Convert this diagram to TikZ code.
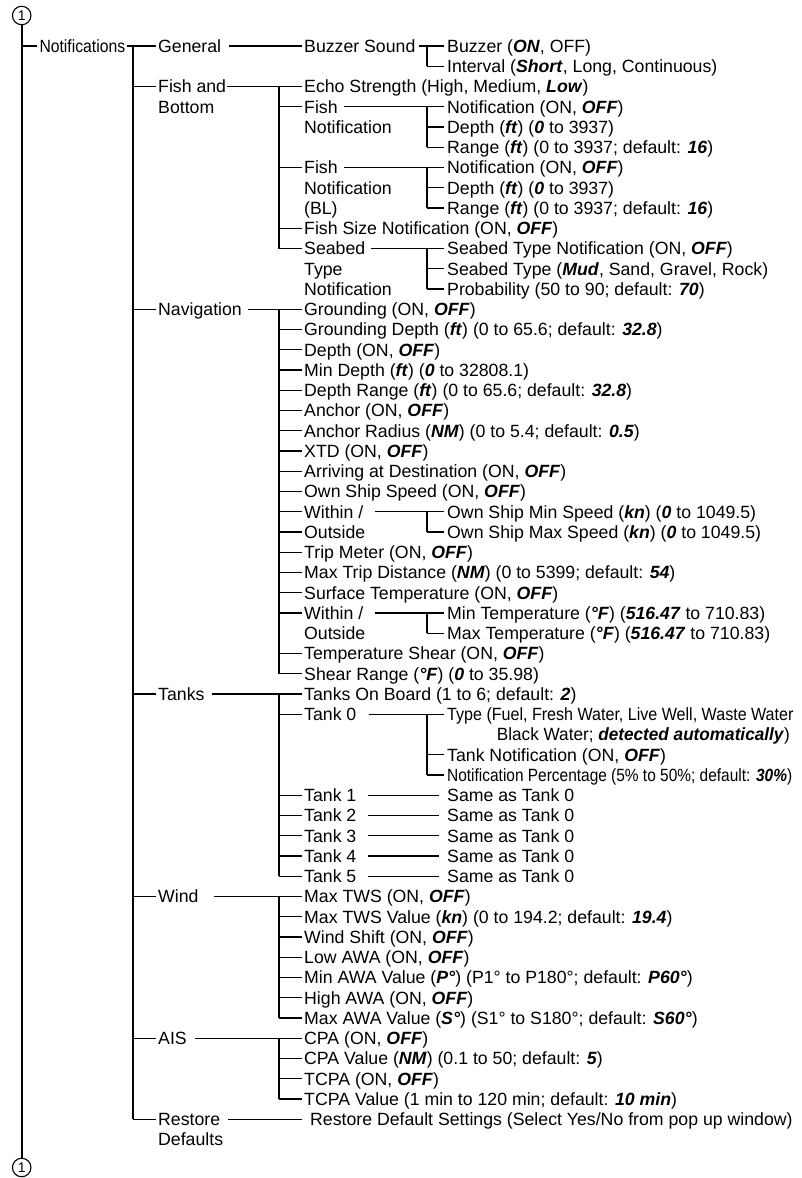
\documentclass[tikz,border=0pt]{standalone}
\usepackage{fontspec}
\setmainfont{Liberation Sans}
\usepackage{graphicx}
\newcommand\bi[1]{\textbf{\textit{#1}}}
\newcommand\hsq[2]{\scalebox{#1}[1]{#2}}
\newcommand\ry[1]{46+#1*20.25}
\begin{document}
\begin{tikzpicture}[x=1pt,y=-1pt,
  lbl/.style={anchor=west,inner sep=0pt,text height=12.7pt,text depth=0pt,font=\fontsize{17.7}{20.25}\selectfont},
  hl/.style={line width=1.3pt},
  vl/.style={line width=1.9pt},
  circ/.style={circle,draw,line width=1.1pt,minimum size=18.5pt,inner sep=0pt,font=\fontsize{14}{14}\selectfont}]
\useasboundingbox (0,0) rectangle (801,1178);
\def\xa{39.3}\def\xb{158}\def\xc{304}\def\xd{447}
\coordinate (v1) at (21.7,0);
\coordinate (v2) at (133.3,0);
\coordinate (v3) at (279.3,0);
\coordinate (v4) at (426.7,0);
% circles
\node[circ] (top) at (21.7,15.5) {1};
\node[circ] (bot) at (21.7,1167.5) {1};
% level 1
\node[lbl] (notif) at (\xa,\ry{0}) {\hsq{0.889}{Notifications}};
% level 2
\node[lbl] (gen) at (\xb,\ry{0}) {General};
\node[lbl] (fb1) at (\xb,\ry{2}) {Fish and};
\node[lbl] (fb2) at (\xb,\ry{3}) {Bottom};
\node[lbl] (nav) at (\xb,\ry{13}) {Navigation};
\node[lbl] (tanks) at (\xb,\ry{32}) {Tanks};
\node[lbl] (wind) at (\xb,\ry{42}) {Wind};
\node[lbl] (ais) at (\xb,\ry{49}) {AIS};
\node[lbl] (rst1) at (\xb,\ry{53}) {Restore};
\node[lbl] (rst2) at (\xb,\ry{54}) {Defaults};
% level 3
\node[lbl] (bs) at (\xc,\ry{0}) {Buzzer Sound};
\node[lbl] (echo) at (\xc,\ry{2}) {Echo Strength (High, Medium, \bi{Low})};
\node[lbl] (fn1) at (\xc,\ry{3}) {Fish};
\node[lbl] (fn1b) at (\xc,\ry{4}) {Notification};
\node[lbl] (fbl) at (\xc,\ry{6}) {Fish};
\node[lbl] (fblb) at (\xc,\ry{7}) {Notification};
\node[lbl] (fblc) at (\xc,\ry{8}) {(BL)};
\node[lbl] (fsize) at (\xc,\ry{9}) {Fish Size Notification (ON, \bi{OFF})};
\node[lbl] (sb) at (\xc,\ry{10}) {Seabed};
\node[lbl] (sbb) at (\xc,\ry{11}) {Type};
\node[lbl] (sbc) at (\xc,\ry{12}) {Notification};
\node[lbl] (grd) at (\xc,\ry{13}) {Grounding (ON, \bi{OFF})};
\node[lbl] (grdd) at (\xc,\ry{14}) {Grounding Depth (\bi{ft}) (0 to 65.6; default: \bi{32.8})};
\node[lbl] (dep) at (\xc,\ry{15}) {Depth (ON, \bi{OFF})};
\node[lbl] (mind) at (\xc,\ry{16}) {Min Depth (\bi{ft}) (\bi{0} to 32808.1)};
\node[lbl] (depr) at (\xc,\ry{17}) {Depth Range (\bi{ft}) (0 to 65.6; default: \bi{32.8})};
\node[lbl] (anc) at (\xc,\ry{18}) {Anchor (ON, \bi{OFF})};
\node[lbl] (ancr) at (\xc,\ry{19}) {Anchor Radius (\bi{NM}) (0 to 5.4; default: \bi{0.5})};
\node[lbl] (xtd) at (\xc,\ry{20}) {XTD (ON, \bi{OFF})};
\node[lbl] (arr) at (\xc,\ry{21}) {Arriving at Destination (ON, \bi{OFF})};
\node[lbl] (oss) at (\xc,\ry{22}) {Own Ship Speed (ON, \bi{OFF})};
\node[lbl] (win1) at (\xc,\ry{23}) {Within /};
\node[lbl] (out1) at (\xc,\ry{24}) {Outside};
\node[lbl] (trip) at (\xc,\ry{25}) {Trip Meter (ON, \bi{OFF})};
\node[lbl] (mtd) at (\xc,\ry{26}) {Max Trip Distance (\bi{NM}) (0 to 5399; default: \bi{54})};
\node[lbl] (surf) at (\xc,\ry{27}) {Surface Temperature (ON, \bi{OFF})};
\node[lbl] (win2) at (\xc,\ry{28}) {Within /};
\node[lbl] (out2) at (\xc,\ry{29}) {Outside};
\node[lbl] (tsh) at (\xc,\ry{30}) {Temperature Shear (ON, \bi{OFF})};
\node[lbl] (shr) at (\xc,\ry{31}) {Shear Range (\bi{°F}) (\bi{0} to 35.98)};
\node[lbl] (tob) at (\xc,\ry{32}) {Tanks On Board (1 to 6; default: \bi{2})};
\node[lbl] (tk0) at (\xc,\ry{33}) {Tank 0};
\node[lbl] (tk1) at (\xc,\ry{37}) {Tank 1};
\node[lbl] (tk2) at (\xc,\ry{38}) {Tank 2};
\node[lbl] (tk3) at (\xc,\ry{39}) {Tank 3};
\node[lbl] (tk4) at (\xc,\ry{40}) {Tank 4};
\node[lbl] (tk5) at (\xc,\ry{41}) {Tank 5};
\node[lbl] (w1) at (\xc,\ry{42}) {Max TWS (ON, \bi{OFF})};
\node[lbl] (w2) at (\xc,\ry{43}) {Max TWS Value (\bi{kn}) (0 to 194.2; default: \bi{19.4})};
\node[lbl] (w3) at (\xc,\ry{44}) {Wind Shift (ON, \bi{OFF})};
\node[lbl] (w4) at (\xc,\ry{45}) {Low AWA (ON, \bi{OFF})};
\node[lbl] (w5) at (\xc,\ry{46}) {Min AWA Value (\bi{P°}) (P1° to P180°; default: \bi{P60°})};
\node[lbl] (w6) at (\xc,\ry{47}) {High AWA (ON, \bi{OFF})};
\node[lbl] (w7) at (\xc,\ry{48}) {Max AWA Value (\bi{S°}) (S1° to S180°; default: \bi{S60°})};
\node[lbl] (a1) at (\xc,\ry{49}) {CPA (ON, \bi{OFF})};
\node[lbl] (a2) at (\xc,\ry{50}) {CPA Value (\bi{NM}) (0.1 to 50; default: \bi{5})};
\node[lbl] (a3) at (\xc,\ry{51}) {TCPA (ON, \bi{OFF})};
\node[lbl] (a4) at (\xc,\ry{52}) {TCPA Value (1 min to 120 min; default: \bi{10 min})};
\node[lbl] (rds) at (310,\ry{53}) {Restore Default Settings (Select Yes/No from pop up window)};
% level 4
\node[lbl] (buz) at (\xd,\ry{0}) {Buzzer (\bi{ON}, OFF)};
\node[lbl] (intv) at (\xd,\ry{1}) {Interval (\bi{Short}, Long, Continuous)};
\node[lbl] (fn1x) at (\xd,\ry{3}) {Notification (ON, \bi{OFF})};
\node[lbl] (fn1y) at (\xd,\ry{4}) {Depth (\bi{ft}) (\bi{0} to 3937)};
\node[lbl] (fn1z) at (\xd,\ry{5}) {Range (\bi{ft}) (0 to 3937; default: \bi{16})};
\node[lbl] (fblx) at (\xd,\ry{6}) {Notification (ON, \bi{OFF})};
\node[lbl] (fbly) at (\xd,\ry{7}) {Depth (\bi{ft}) (\bi{0} to 3937)};
\node[lbl] (fblz) at (\xd,\ry{8}) {Range (\bi{ft}) (0 to 3937; default: \bi{16})};
\node[lbl] (sbx) at (\xd,\ry{10}) {Seabed Type Notification (ON, \bi{OFF})};
\node[lbl] (sby) at (\xd,\ry{11}) {Seabed Type (\bi{Mud}, Sand, Gravel, Rock)};
\node[lbl] (sbz) at (\xd,\ry{12}) {Probability (50 to 90; default: \bi{70})};
\node[lbl] (osmin) at (\xd,\ry{23}) {Own Ship Min Speed (\bi{kn}) (\bi{0} to 1049.5)};
\node[lbl] (osmax) at (\xd,\ry{24}) {Own Ship Max Speed (\bi{kn}) (\bi{0} to 1049.5)};
\node[lbl] (tmin) at (\xd,\ry{28}) {Min Temperature (\bi{°F}) (\bi{516.47} to 710.83)};
\node[lbl] (tmax) at (\xd,\ry{29}) {Max Temperature (\bi{°F}) (\bi{516.47} to 710.83)};
\node[lbl] (ty) at (\xd,\ry{33}) {\hsq{0.908}{Type (Fuel, Fresh Water, Live Well, Waste Water}};
\node[lbl] (ty2) at (496.7,\ry{34}) {\hsq{0.97}{Black Water; \bi{detected automatically})}};
\node[lbl] (tnot) at (\xd,\ry{35}) {Tank Notification (ON, \bi{OFF})};
\node[lbl] (tpct) at (\xd,\ry{36}) {\hsq{0.873}{Notification Percentage (5\% to 50\%; default: \bi{30\%})}};
\node[lbl] (s1) at (\xd,\ry{37}) {Same as Tank 0};
\node[lbl] (s2) at (\xd,\ry{38}) {Same as Tank 0};
\node[lbl] (s3) at (\xd,\ry{39}) {Same as Tank 0};
\node[lbl] (s4) at (\xd,\ry{40}) {Same as Tank 0};
\node[lbl] (s5) at (\xd,\ry{41}) {Same as Tank 0};
% ---- connectors ----
\draw[vl] (top.south) -- (bot.north);
\draw[hl] (notif.west -| v1) -- ([xshift=-2.5pt]notif.west);
\draw[hl] ([xshift=2pt]notif.east) -- ([xshift=-2.5pt]gen.west);
\draw[vl] (gen.west -| v2) -- (rst1.west -| v2);
\foreach \nd in {fb1,nav,tanks,wind,ais,rst1}
  \draw[hl] (\nd.west -| v2) -- ([xshift=-2.5pt]\nd.west);
% level 2 -> level 3
\draw[hl] ([xshift=8pt]gen.east) -- ([xshift=-2.5pt]bs.west);
\draw[hl] ([xshift=1pt]fb1.east) -- ([xshift=-2.5pt]echo.west);
\draw[vl] (echo.west -| v3) -- (sb.west -| v3);
\foreach \nd in {fn1,fbl,fsize,sb}
  \draw[hl] (\nd.west -| v3) -- ([xshift=-2.5pt]\nd.west);
\draw[hl] ([xshift=6pt]nav.east) -- ([xshift=-2.5pt]grd.west);
\draw[vl] (grd.west -| v3) -- (shr.west -| v3);
\foreach \nd in {grdd,dep,mind,depr,anc,ancr,xtd,arr,oss,win1,out1,trip,mtd,surf,win2,tsh,shr}
  \draw[hl] (\nd.west -| v3) -- ([xshift=-2.5pt]\nd.west);
\draw[hl] ([xshift=7pt]tanks.east) -- ([xshift=-2.5pt]tob.west);
\draw[vl] (tob.west -| v3) -- (tk5.west -| v3);
\foreach \nd in {tk0,tk1,tk2,tk3,tk4,tk5}
  \draw[hl] (\nd.west -| v3) -- ([xshift=-2.5pt]\nd.west);
\draw[hl] ([xshift=15pt]wind.east) -- ([xshift=-2.5pt]w1.west);
\draw[vl] (w1.west -| v3) -- (w7.west -| v3);
\foreach \nd in {w2,w3,w4,w5,w6,w7}
  \draw[hl] (\nd.west -| v3) -- ([xshift=-2.5pt]\nd.west);
\draw[hl] ([xshift=8pt]ais.east) -- ([xshift=-2.5pt]a1.west);
\draw[vl] (a1.west -| v3) -- (a4.west -| v3);
\foreach \nd in {a2,a3,a4}
  \draw[hl] (\nd.west -| v3) -- ([xshift=-2.5pt]\nd.west);
\draw[hl] ([xshift=8pt]rst1.east) -- ([xshift=-8pt]rds.west);
% level 3 -> level 4
\draw[hl] ([xshift=3pt]bs.east) -- ([xshift=-3.5pt]buz.west);
\draw[vl] (buz.west -| v4) -- (intv.west -| v4);
\draw[hl] (intv.west -| v4) -- ([xshift=-3.5pt]intv.west);
\draw[hl] ([xshift=6pt]fn1.east) -- ([xshift=-3.5pt]fn1x.west);
\draw[vl] (fn1x.west -| v4) -- (fn1z.west -| v4);
\foreach \nd in {fn1y,fn1z}
  \draw[hl] (\nd.west -| v4) -- ([xshift=-3.5pt]\nd.west);
\draw[hl] ([xshift=6pt]fbl.east) -- ([xshift=-3.5pt]fblx.west);
\draw[vl] (fblx.west -| v4) -- (fblz.west -| v4);
\foreach \nd in {fbly,fblz}
  \draw[hl] (\nd.west -| v4) -- ([xshift=-3.5pt]\nd.west);
\draw[hl] ([xshift=6pt]sb.east) -- ([xshift=-3.5pt]sbx.west);
\draw[vl] (sbx.west -| v4) -- (sbz.west -| v4);
\foreach \nd in {sby,sbz}
  \draw[hl] (\nd.west -| v4) -- ([xshift=-3.5pt]\nd.west);
\draw[hl] ([xshift=12pt]win1.east) -- ([xshift=-3.5pt]osmin.west);
\draw[vl] (osmin.west -| v4) -- (osmax.west -| v4);
\draw[hl] (osmax.west -| v4) -- ([xshift=-3.5pt]osmax.west);
\draw[hl] ([xshift=12pt]win2.east) -- ([xshift=-3.5pt]tmin.west);
\draw[vl] (tmin.west -| v4) -- (tmax.west -| v4);
\draw[hl] (tmax.west -| v4) -- ([xshift=-3.5pt]tmax.west);
\draw[hl] ([xshift=12pt]tk0.east) -- ([xshift=-3.5pt]ty.west);
\draw[vl] (ty.west -| v4) -- (tpct.west -| v4);
\foreach \nd in {tnot,tpct}
  \draw[hl] (\nd.west -| v4) -- ([xshift=-3.5pt]\nd.west);
\foreach \i in {1,...,5}
  \draw[hl] ([xshift=11pt]tk\i.east) -- ([xshift=-8pt]s\i.west);
\end{tikzpicture}
\end{document}
